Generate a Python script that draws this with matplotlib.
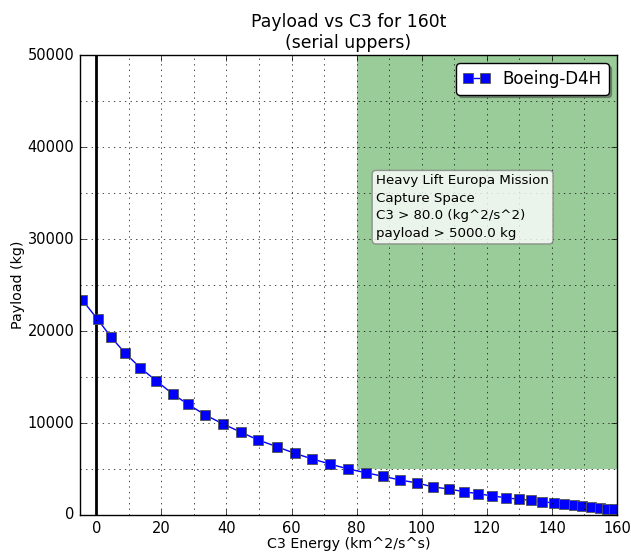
import matplotlib
matplotlib.use("Agg")
import matplotlib.pyplot as plt
from matplotlib.ticker import MultipleLocator

plt.style.use('classic')

c3 = [-4.3, 0.4, 4.6, 8.9, 13.5, 18.5, 23.5, 28.2, 33.5, 39.0, 44.5, 49.8,
      55.5, 61.0, 66.4, 71.8, 77.4, 82.8, 88.1, 93.4, 98.6, 103.6, 108.4,
      112.9, 117.4, 121.7, 125.9, 129.8, 133.6, 137.1, 140.5, 143.7, 146.7,
      149.3, 152.0, 154.7, 156.9, 159.0]
payload = [23370, 21270, 19315, 17576, 16010, 14565, 13150, 12032, 10870,
           9890, 8990, 8150, 7424, 6700, 6087, 5543, 5000, 4600, 4206, 3804,
           3478, 3043, 2826, 2536, 2315, 2065, 1880, 1707, 1598, 1413, 1337,
           1230, 1130, 1030, 900, 720, 640, 640]

series_label = "Boeing-D4H"
c3_min = 80.0
payload_min = 5000.0
note = ("Heavy Lift Europa Mission\nCapture Space\n"
        "C3 > 80.0 (kg^2/s^2)\npayload > 5000.0 kg")

fig = plt.figure(figsize=(6.31, 5.54), dpi=100, facecolor='white')
ax = fig.add_axes([0.1268, 0.0704, 0.8510, 0.8303])

ax.fill_between([c3_min, 160], payload_min, 50000, color='green', alpha=0.4,
                linewidth=0)
ax.axvline(0, color='black', linewidth=2)
ax.plot(c3, payload, 'bs-', markersize=6.5, markeredgewidth=0.6,
        markeredgecolor='#555555', label=series_label)

ax.set_xlim(-5, 160)
ax.set_ylim(0, 50000)
ax.xaxis.set_major_locator(MultipleLocator(20))
ax.xaxis.set_minor_locator(MultipleLocator(10))
ax.yaxis.set_major_locator(MultipleLocator(10000))
ax.yaxis.set_minor_locator(MultipleLocator(5000))
ax.tick_params(which='minor', length=0)
ax.grid(True, which='both', color='black', linestyle=':', linewidth=0.5)
ax.tick_params(labelsize=10.5)

ax.text(86.0, 29900, note, fontsize=9.6, va='bottom', ha='left',
        linespacing=1.45,
        bbox=dict(boxstyle='round,pad=0.3', facecolor='white', alpha=0.8,
                  edgecolor='gray'))

leg = ax.legend(loc='upper right', fancybox=True, shadow=True, fontsize=12,
                numpoints=2, handlelength=1.6)

ax.set_title("Payload vs C3 for 160t\n(serial uppers)", fontsize=12.4)
ax.set_xlabel("C3 Energy (km^2/s^s)", fontsize=10.3, labelpad=1)
ax.set_ylabel("Payload (kg)", fontsize=10.3, labelpad=2)

fig.savefig("out.png", dpi=100, facecolor='white')
